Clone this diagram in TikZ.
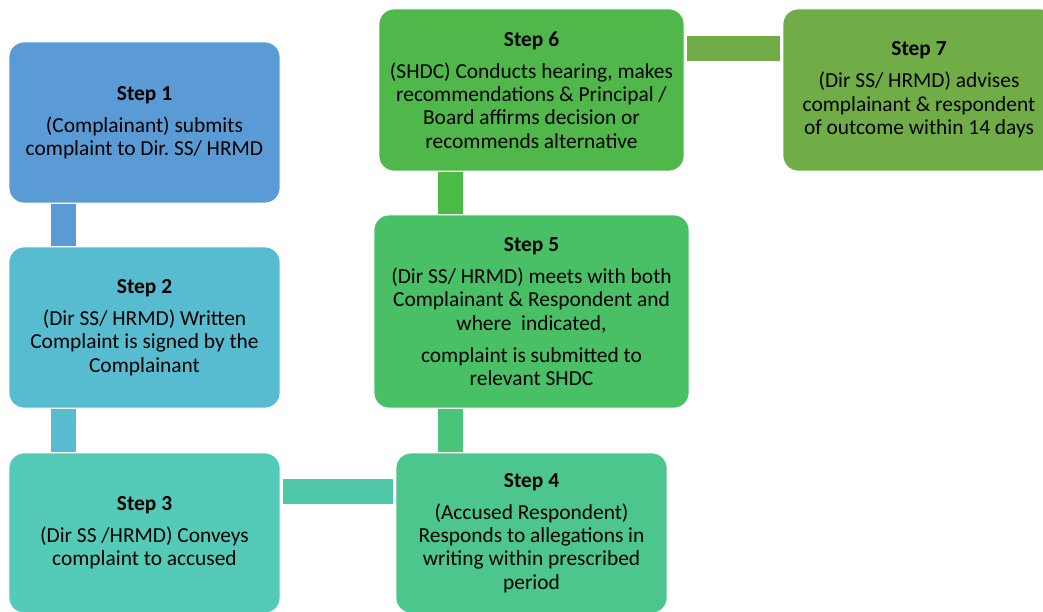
\documentclass[tikz,border=0pt]{standalone}
\usepackage{fontspec}
\setmainfont{Carlito}
\frenchspacing
\definecolor{stepA}{HTML}{5B9BD5}
\definecolor{stepB}{HTML}{57BCD0}
\definecolor{stepC}{HTML}{53CBB8}
\definecolor{stepD}{HTML}{4DC68D}
\definecolor{stepE}{HTML}{49C066}
\definecolor{stepF}{HTML}{50B84A}
\definecolor{stepG}{HTML}{70AD47}
\definecolor{barCD}{HTML}{4FC7A6}
\definecolor{barDE}{HTML}{4AC47B}
\definecolor{barEF}{HTML}{4BBA47}
\begin{document}
\begin{tikzpicture}[x=1pt, y=-1pt,
    stepbox/.style={rounded corners=15pt, draw=white, line width=0.8pt, fill=#1,
      text=black, align=center, inner sep=0pt, minimum width=271pt, minimum height=161pt,
      font=\fontsize{21.4}{23.4}\selectfont},
    bar/.style={draw=#1, line width=25pt, shorten <=1pt, shorten >=1pt}]
    \useasboundingbox (0,0) rectangle (1043,612);
    \clip (0,0) rectangle (1043,612);

    % left column
    \node[stepbox=stepA] (s1) at (144.5,122.5)
      {\textbf{Step 1}\\[8.5pt](Complainant) submits\\complaint to Dir. SS/ HRMD};
    \node[stepbox=stepB] (s2) at (144.5,327.5)
      {\textbf{Step 2}\\[8.5pt](Dir SS/ HRMD) Written\\Complaint is signed by the\\Complainant};
    \node[stepbox=stepC, minimum height=160pt] (s3) at (144.5,533)
      {\textbf{Step 3}\\[8.5pt](Dir SS /HRMD) Conveys\\complaint to accused};

    % middle column
    \node[stepbox=stepD, minimum height=160pt] (s4) at (531.5,533)
      {\textbf{Step 4}\\[8.5pt](Accused Respondent)\\Responds to allegations in\\writing within prescribed\\period};
    \node[stepbox=stepE, minimum width=315pt, minimum height=193pt] (s5) at (531.5,311.5)
      {\textbf{Step 5}\\[8.5pt](Dir SS/ HRMD) meets with both\\Complainant \& Respondent and\\where\ \ indicated,\\[8.5pt]complaint is submitted to\\relevant SHDC};
    \node[stepbox=stepF, minimum width=305pt, minimum height=162pt] (s6) at (531.5,90)
      {\textbf{Step 6}\\[8.5pt](SHDC) Conducts hearing, makes\\recommendations \& Principal /\\Board affirms decision or\\recommends alternative};

    % right column
    \node[stepbox=stepG, minimum width=272pt, minimum height=162pt] (s7) at (919,90)
      {\textbf{Step 7}\\[8.5pt](Dir SS/ HRMD) advises\\complainant \& respondent\\of outcome within 14 days};

    % connectors
    \draw[bar=stepA] ([xshift=-81pt]s1.south) -- ([xshift=-81pt]s2.north);
    \draw[bar=stepB] ([xshift=-81pt]s2.south) -- ([xshift=-81pt]s3.north);
    \draw[bar=barCD, shorten <=3pt, shorten >=3pt] ([yshift=42pt]s3.east) -- ([yshift=42pt]s4.west);
    \draw[bar=barDE] ([xshift=-81pt]s4.north) -- ([xshift=-81pt]s5.south);
    \draw[bar=barEF] ([xshift=-81pt]s5.north) -- ([xshift=-81pt]s6.south);
    \draw[bar=stepG, shorten <=3pt, shorten >=3pt] ([yshift=41.5pt]s6.east) -- ([yshift=41.5pt]s7.west);
\end{tikzpicture}
\end{document}
